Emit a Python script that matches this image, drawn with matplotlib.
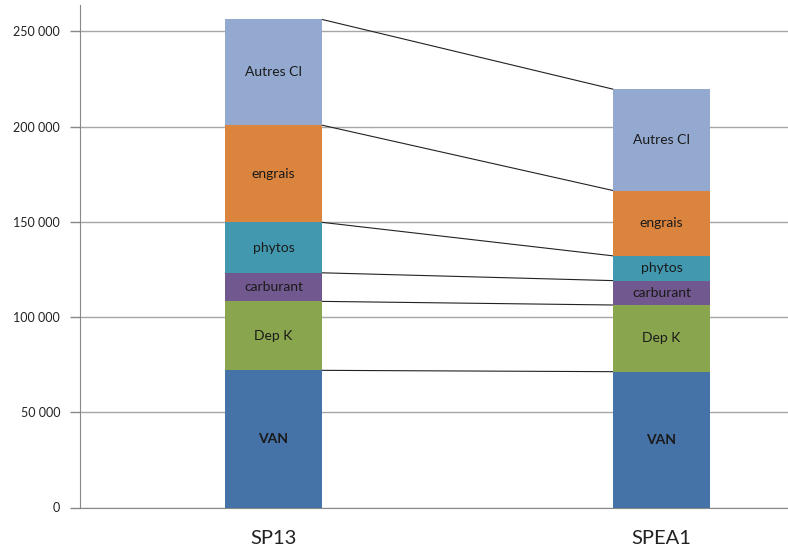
import numpy as np
import matplotlib.pyplot as plt
from matplotlib.ticker import FuncFormatter

categories = ['SP13', 'SPEA1']
postes = ['VAN', 'Dep K', 'carburant', 'phytos', 'engrais', 'Autres CI']
van = [72000, 71300]
dep_k = [36200, 35000]
carburant = [15000, 12800]
phytos = [26500, 13000]
engrais = [51000, 34300]
autres_ci = [55500, 53200]

series = [van, dep_k, carburant, phytos, engrais, autres_ci]
colors = ['#4572A7', '#89A54E', '#71588F', '#4198AF', '#DB843D', '#93A9CF']

plt.rcParams['font.family'] = ['Lato', 'DejaVu Sans']

fig = plt.figure(figsize=(7.88, 5.51), dpi=100)
# axes run past the right edge of the figure (the second half-category is cut off)
ax = fig.add_axes([79.5 / 788, 43.5 / 551, 776 / 788, 502.5 / 551])

x = np.arange(len(categories))
width = 0.25
bottom = np.zeros(len(categories))
tops = []
for name, vals, c in zip(postes, series, colors):
    vals = np.array(vals, dtype=float)
    ax.bar(x, vals, width, bottom=bottom, color=c, zorder=3)
    for xi, b, v in zip(x, bottom, vals):
        ax.text(xi, b + v / 2, name, ha='center', va='center', fontsize=10,
                color='#1a1a1a',
                fontweight='bold' if name == 'VAN' else 'normal', zorder=4)
    bottom = bottom + vals
    tops.append(bottom.copy())

# series lines between the two stacks
for t in tops:
    ax.plot([x[0] + width / 2, x[1] - width / 2], [t[0], t[1]],
            color='#222222', lw=0.8, zorder=2)

ax.set_xlim(-0.5, 1.5)
ax.set_ylim(0, 263780)
ax.set_yticks(np.arange(0, 250001, 50000))
ax.yaxis.set_major_formatter(FuncFormatter(lambda v, p: f'{int(v):,}'.replace(',', ' ')))
ax.set_xticks(x)
ax.set_xticklabels(categories, fontsize=14.5)
ax.tick_params(axis='x', length=0, pad=16, colors='#222222')
ax.tick_params(axis='y', length=7, width=1, color='#888888', labelsize=9,
               labelcolor='#222222', pad=7)

ax.grid(axis='y', color='#a6a6a6', lw=1, zorder=0)
ax.set_axisbelow(True)
for s in ['top', 'right']:
    ax.spines[s].set_visible(False)
ax.spines['left'].set_color('#888888')
ax.spines['bottom'].set_color('#888888')

fig.savefig('out.png', dpi=100)
